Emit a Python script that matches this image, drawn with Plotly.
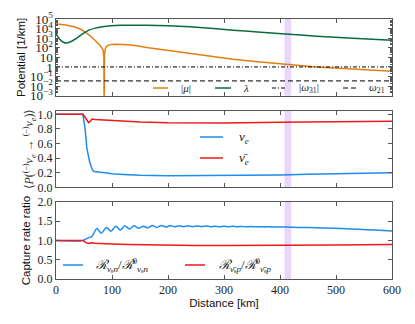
import plotly.graph_objects as go

# ---------------- data ----------------
dist_max = 600
band = [408, 420]

mu_x = [0, 10, 20, 34, 45, 52, 60, 70, 78, 82, 84, 85.5, 86, 86.5, 88, 90, 95, 105, 120, 138, 165, 198, 233, 257, 316, 360, 409, 465, 530, 600]
mu_v = [3.2e4, 2.8e4, 2.2e4, 1.45e4, 8.0e3, 4.3e3, 2.0e3, 575, 200, 89, 63, 10, 1e-6, 16, 80, 141, 200, 234, 224, 182, 100, 55, 24.5, 15.8, 6.3, 3.5, 2.0, 1.0, 0.6, 0.36]

lam_x = [0, 7, 13, 19, 28, 37, 46, 58, 70, 82, 99, 117, 141, 180, 220, 257, 316, 360, 409, 465, 530, 600]
lam_v = [2800, 720, 380, 316, 480, 1000, 2450, 6500, 11200, 15500, 20000, 21900, 22900, 21400, 17800, 13200, 6900, 4500, 2800, 1580, 1000, 620]

omega31 = 1.0
omega21 = 0.035

nue_x = [0, 48, 52, 55, 60, 65, 68, 75, 80, 88, 100, 120, 150, 200, 250, 300, 350, 400, 450, 500, 550, 600]
nue_v = [1.0, 1.0, 0.8, 0.54, 0.35, 0.24, 0.215, 0.205, 0.205, 0.2, 0.185, 0.175, 0.165, 0.16, 0.16, 0.162, 0.165, 0.17, 0.178, 0.185, 0.193, 0.2]

nuebar_x = [0, 48, 53, 58, 62, 64, 70, 80, 100, 120, 150, 200, 250, 300, 400, 500, 600]
nuebar_v = [1.0, 1.0, 0.95, 0.885, 0.91, 0.935, 0.93, 0.925, 0.915, 0.905, 0.895, 0.885, 0.88, 0.882, 0.89, 0.898, 0.905]

rn_x = [0, 48, 55, 60, 64, 68, 73, 81, 90, 98, 107, 115, 123, 131, 139, 148, 156, 164, 172, 180, 188, 197, 204,
        212, 220, 228, 236, 244, 252, 260, 268, 276, 284, 292, 300, 308, 316, 324, 332, 340, 348, 356, 364, 372, 380,
        390, 400, 420, 450, 480, 510, 540, 570, 600]
rn_v = [1.0, 1.0, 1.05, 1.08, 1.1, 1.2, 1.31, 1.19, 1.34, 1.24, 1.37, 1.27, 1.38, 1.30, 1.38, 1.32, 1.37, 1.33, 1.39, 1.34, 1.39, 1.35, 1.39,
        1.355, 1.38, 1.36, 1.38, 1.36, 1.375, 1.36, 1.375, 1.36, 1.372, 1.358, 1.37, 1.358, 1.368, 1.356, 1.366, 1.355, 1.363, 1.354, 1.36, 1.352, 1.357,
        1.35, 1.35, 1.345, 1.335, 1.325, 1.31, 1.29, 1.27, 1.25]

rp_x = [0, 48, 53, 57, 60, 63, 70, 80, 100, 130, 160, 200, 250, 300, 400, 500, 600]
rp_v = [1.0, 1.0, 0.95, 0.92, 0.93, 0.94, 0.93, 0.92, 0.91, 0.895, 0.885, 0.875, 0.868, 0.868, 0.87, 0.88, 0.895]

x_ticks = [0, 100, 200, 300, 400, 500, 600]

# ---------------- style ----------------
ORANGE = "#e07f10"
GREEN = "#0b6b3e"
BLUE = "#1f8cf0"
RED = "#f01818"
BAND = "#e8d6fb"
FRAME = "#555555"
SERIF = "Liberation Serif"
SANS = "Liberation Sans"

# page body has an 8px default margin: build the figure so it lands on the window pixels
OFF = 8
WIN_W, WIN_H = 415, 324
PLOT_L, PLOT_R, PLOT_T, PLOT_B = 56, 392, 19, 279   # plot area in window pixels
W, H = WIN_W - OFF, WIN_H - OFF
ML, MT = PLOT_L - OFF, PLOT_T - OFF
MR, MB = W - (PLOT_R - OFF), H - (PLOT_B - OFF)
PW, PH = PLOT_R - PLOT_L, PLOT_B - PLOT_T

def px2paper(px, py):
    return (px - PLOT_L) / PW, (PLOT_B - py) / PH

LABEL_MU = "|<i>μ</i>|"
LABEL_LAM = "<i>λ</i>"
LABEL_W31 = "|<i>ω</i><sub>31</sub>|"
LABEL_W21 = "<i>ω</i><sub>21</sub>"
LABEL_NUE = "<i>ν<sub>e</sub></i>"
LABEL_NUEBAR = "<i>ν̄<sub>e</sub></i>"
LABEL_RN = "<i>ℛ</i><sub><i>ν</i>ₑ<i>n</i></sub>/<i>ℛ</i><sup>0</sup><sub><i>ν</i>ₑ<i>n</i></sub>"
LABEL_RP = "<i>ℛ</i><sub><i>ν̄</i>ₑ<i>p</i></sub>/<i>ℛ</i><sup>0</sup><sub><i>ν̄</i>ₑ<i>p</i></sub>"

DASHDOT = "4px,2px,1px,2px"
DASHED = "5px,3px"

fig = go.Figure()

fig.add_trace(go.Scatter(x=mu_x, y=mu_v, mode="lines", line=dict(color=ORANGE, width=1.5),
                         name=LABEL_MU, xaxis="x", yaxis="y"))
fig.add_trace(go.Scatter(x=lam_x, y=lam_v, mode="lines", line=dict(color=GREEN, width=1.5, shape="spline", smoothing=0.6),
                         name=LABEL_LAM, xaxis="x", yaxis="y"))
fig.add_trace(go.Scatter(x=[0, dist_max], y=[omega31, omega31], mode="lines",
                         line=dict(color="black", width=1, dash=DASHDOT), name=LABEL_W31, xaxis="x", yaxis="y"))
fig.add_trace(go.Scatter(x=[0, dist_max], y=[omega21, omega21], mode="lines",
                         line=dict(color="black", width=1, dash=DASHED), name=LABEL_W21, xaxis="x", yaxis="y"))

fig.add_trace(go.Scatter(x=nue_x, y=nue_v, mode="lines", line=dict(color=BLUE, width=1.5),
                         name=LABEL_NUE, xaxis="x2", yaxis="y2"))
fig.add_trace(go.Scatter(x=nuebar_x, y=nuebar_v, mode="lines", line=dict(color=RED, width=1.5),
                         name=LABEL_NUEBAR, xaxis="x2", yaxis="y2"))

fig.add_trace(go.Scatter(x=rn_x, y=rn_v, mode="lines", line=dict(color=BLUE, width=1.5, shape="spline", smoothing=0.8),
                         name=LABEL_RN, xaxis="x3", yaxis="y3"))
fig.add_trace(go.Scatter(x=rp_x, y=rp_v, mode="lines", line=dict(color=RED, width=1.5),
                         name=LABEL_RP, xaxis="x3", yaxis="y3"))

# band shapes
for xa, ya in [("x", "y"), ("x2", "y2"), ("x3", "y3")]:
    fig.add_shape(type="rect", xref=xa, yref=ya + " domain", x0=band[0], x1=band[1], y0=0, y1=1,
                  fillcolor=BAND, line_width=0, layer="below")

# manual legends (line sample + label), positions in window pixels
legend_items = [
    (153, 168, 88, 179, ORANGE, "solid", LABEL_MU, 11),
    (215, 231, 88, 241, GREEN, "solid", LABEL_LAM, 11),
    (272, 287, 88, 297, "black", DASHDOT, LABEL_W31, 11),
    (343, 357, 88, 367, "black", DASHED, LABEL_W21, 11),
    (200, 223, 137, 237, BLUE, "solid", LABEL_NUE, 13),
    (200, 223, 158, 237, RED, "solid", LABEL_NUEBAR, 13),
    (63, 83, 265, 94, BLUE, "solid", LABEL_RN, 13),
    (185, 205, 265, 217, RED, "solid", LABEL_RP, 13),
]
for x0, x1, y, tx, col, dash, lab, fs in legend_items:
    a0, b0 = px2paper(x0, y)
    a1, _ = px2paper(x1, y)
    fig.add_shape(type="line", xref="paper", yref="paper", x0=a0, x1=a1, y0=b0, y1=b0,
                  line=dict(color=col, width=1.5 if dash == "solid" else 1, dash=dash))
    ta, tb = px2paper(tx, y)
    fig.add_annotation(xref="paper", yref="paper", x=ta, y=tb, text=lab, showarrow=False,
                       xanchor="left", yanchor="middle", font=dict(family=SERIF, size=fs, color="#222"))

tickfont = dict(family=SERIF, size=12, color="#222")
common_x = dict(range=[0, dist_max], tickvals=x_ticks, ticks="inside", ticklen=4, tickcolor=FRAME,
                showline=True, linecolor=FRAME, linewidth=1, mirror="allticks", showgrid=False,
                zeroline=False, tickfont=tickfont, automargin=False)
common_y = dict(ticks="inside", ticklen=4, tickcolor=FRAME, showline=True, linecolor=FRAME, linewidth=1,
                mirror="allticks", showgrid=False, zeroline=False, automargin=False)

def dom(top_px, bot_px):
    return [(PLOT_B - bot_px) / PH, (PLOT_B - top_px) / PH]

TITLE_FONT = dict(family=SANS, size=11.5, color="#111")

fig.update_layout(
    width=W, height=H,
    margin=dict(l=ML, r=MR, t=MT, b=MB),
    paper_bgcolor="white", plot_bgcolor="white",
    showlegend=False,
    xaxis=dict(domain=[0, 1], anchor="y", showticklabels=False, **common_x),
    xaxis2=dict(domain=[0, 1], anchor="y2", showticklabels=False, matches="x", **common_x),
    xaxis3=dict(domain=[0, 1], anchor="y3",
                title=dict(text="Distance [km]", font=TITLE_FONT, standoff=2),
                **common_x),
    yaxis=dict(domain=dom(19, 95.7), anchor="x", type="log", range=[-3, 5], dtick=1, exponentformat="power",
               tickfont=dict(family=SERIF, size=10.5, color="#222"),
               minor=dict(ticks="inside", ticklen=2, tickcolor=FRAME, showgrid=False),
               title=dict(text="Potential [1/km]", font=TITLE_FONT, standoff=1),
               **common_y),
    yaxis2=dict(domain=dom(110.7, 187.3), anchor="x2", range=[0, 1.05], tickvals=[0, 0.2, 0.4, 0.6, 0.8, 1.0],
                tickformat=".1f", tickfont=tickfont,
                title=dict(text="⟨<i>P</i>(<sup>(–)</sup><i>ν</i><sub><i>e</i></sub> → <sup>(–)</sup><i>ν</i><sub><i>e</i></sub>)⟩",
                           font=dict(family=SERIF, size=12, color="#333"), standoff=0),
                **common_y),
    yaxis3=dict(domain=dom(202, 279), anchor="x3", range=[0, 2.0], tickvals=[0, 0.5, 1.0, 1.5, 2.0], tickformat=".1f",
                tickfont=tickfont,
                title=dict(text="Capture rate ratio", font=TITLE_FONT, standoff=4),
                **common_y),
)

fig.write_html("out.html")
